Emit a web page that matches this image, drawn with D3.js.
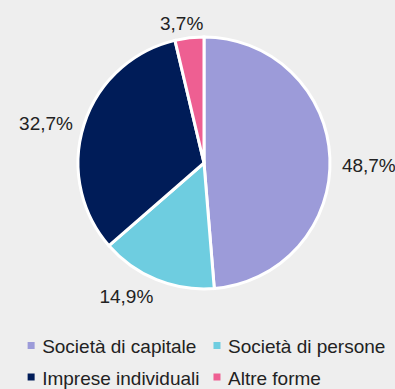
<!DOCTYPE html>
<html><head><meta charset="utf-8">
<script src="https://cdn.jsdelivr.net/npm/d3@7"></script>
<style>
html,body{margin:0;padding:0;background:#eeeeee;}
svg{display:block;font-family:"Liberation Sans",Arial,Helvetica,sans-serif;}
</style></head>
<body>
<svg id="chart" width="395" height="389"></svg>
<script>
const categories = ["Società di capitale", "Società di persone", "Imprese individuali", "Altre forme"];
const values = [48.7, 14.9, 32.7, 3.7];
const labels = ["48,7%", "14,9%", "32,7%", "3,7%"];
const colors = ["#9c9bd9", "#6ecde0", "#001c58", "#ee5f92"];

const W = 395, H = 389;
const cx = 204, cy = 163, r = 126;
const svg = d3.select("#chart");
svg.append("rect").attr("width", W).attr("height", H).attr("fill", "#eeeeee");

const data = categories.map((c, i) => ({cat: c, value: values[i], label: labels[i], color: colors[i]}));
const pie = d3.pie().value(d => d.value).sort(null);
const arcs = pie(data);
const arc = d3.arc().innerRadius(0).outerRadius(r);

const g = svg.append("g").attr("transform", `translate(${cx},${cy})`);
g.selectAll("path").data(arcs).join("path")
  .attr("d", arc)
  .attr("fill", d => d.data.color)
  .attr("stroke", "#ffffff")
  .attr("stroke-width", 3)
  .attr("stroke-linejoin", "miter");

// labels: outside-end placement
const fs = 19;
const clamp = v => Math.max(-1, Math.min(1, v));
const lg = g.append("g");
arcs.forEach(a => {
  const m = (a.startAngle + a.endAngle) / 2;
  const s = Math.sin(m), c = -Math.cos(m);
  const gap = 8 + 4 * s * s;
  const px = (r + gap) * s, py = (r + gap) * c;
  const t = lg.append("text")
    .attr("font-size", fs)
    .attr("fill", "#222222")
    .text(a.data.label);
  const w = t.node().getComputedTextLength();
  const capH = fs * 0.716;
  const bx = px + clamp(s * 2.7) * w / 2;
  const by = py + clamp(c * 2.7) * capH / 2 + 9 * s * s;
  t.attr("x", bx).attr("y", by + capH / 2).attr("text-anchor", "middle");
});

// legend
const lfs = 19;
const leg = svg.append("g");
const rows = [[0, 1], [2, 3]];
const rowY = [353, 384.5];
const sq = 7, sqGap = 7.5, colGap = 14;
const tmp = leg.append("text").attr("font-size", lfs);
const widths = categories.map(c => { tmp.text(c); return tmp.node().getComputedTextLength(); });
tmp.remove();
const col1W = Math.max(widths[0], widths[2]) + sq + sqGap;
const col2W = Math.max(widths[1], widths[3]) + sq + sqGap;
const totalW = col1W + colGap + col2W;
const lx0 = 206.5 - totalW / 2;
const colX = [lx0, lx0 + col1W + colGap];
rows.forEach((row, ri) => {
  row.forEach((idx, ci) => {
    const x = colX[ci], y = rowY[ri];
    leg.append("rect").attr("x", x).attr("y", y - 11).attr("width", sq).attr("height", sq)
      .attr("fill", colors[idx]);
    leg.append("text").attr("x", x + sq + sqGap).attr("y", y)
      .attr("font-size", lfs).attr("fill", "#222222").text(categories[idx]);
  });
});
</script>
</body></html>
